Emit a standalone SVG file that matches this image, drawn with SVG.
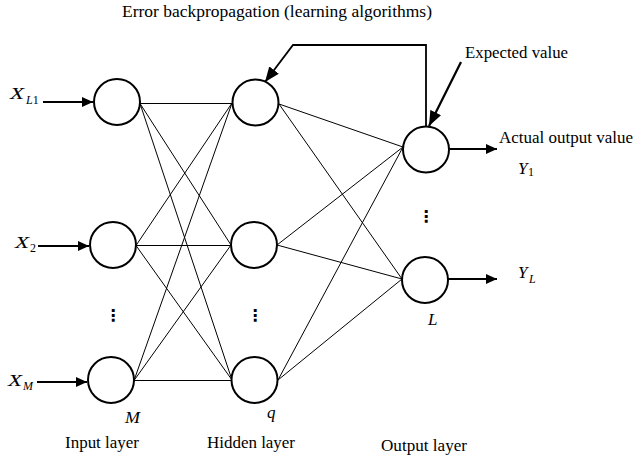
<svg xmlns="http://www.w3.org/2000/svg" width="635" height="461" viewBox="0 0 635 461">
<style>
.node{fill:#fff;stroke:#000;stroke-width:2}
.conn{stroke:#000;stroke-width:1;fill:none}
.arr{stroke:#000;stroke-width:2.2;fill:none}
text{font-family:'Liberation Serif','DejaVu Serif',serif;fill:#000}
.lbl{font-size:16px}
.math{font-style:italic;font-size:17px}
.sub{font-style:italic;font-size:12px}
.up{font-style:normal}
.dots{font-family:'DejaVu Sans',sans-serif;font-size:16px;font-weight:bold;text-anchor:middle}
</style>
<defs>
<marker id="ah" markerUnits="userSpaceOnUse" markerWidth="11" markerHeight="10" refX="11" refY="5" orient="auto"><path d="M0,0 L11,5 L0,10 z" fill="#000"/></marker>
<marker id="ahL" markerUnits="userSpaceOnUse" markerWidth="15" markerHeight="12" refX="15" refY="6" orient="auto"><path d="M0,0 L15,6 L0,12 z" fill="#000"/></marker>
</defs>
<g id="connectors">
<line class="conn" x1="140" y1="103.5" x2="232" y2="103.5"/>
<line class="conn" x1="140" y1="103.5" x2="231" y2="245"/>
<line class="conn" x1="140" y1="103.5" x2="232" y2="380"/>
<line class="conn" x1="136" y1="245.5" x2="232" y2="103"/>
<line class="conn" x1="136" y1="245.5" x2="231" y2="245.5"/>
<line class="conn" x1="136" y1="245.5" x2="232" y2="380"/>
<line class="conn" x1="134" y1="380.5" x2="232" y2="103"/>
<line class="conn" x1="134" y1="380.5" x2="231" y2="245"/>
<line class="conn" x1="134" y1="380.5" x2="232" y2="380.5"/>
<line class="conn" x1="279" y1="104" x2="403" y2="147"/>
<line class="conn" x1="279" y1="104" x2="402" y2="279"/>
<line class="conn" x1="277" y1="245" x2="403" y2="147"/>
<line class="conn" x1="277" y1="245" x2="402" y2="279"/>
<line class="conn" x1="278" y1="380" x2="403" y2="147"/>
<line class="conn" x1="278" y1="380" x2="402" y2="279"/>
<line class="arr" x1="43" y1="102" x2="93" y2="102" marker-end="url(#ah)"/>
<line class="arr" x1="38" y1="246" x2="89" y2="246" marker-end="url(#ah)"/>
<line class="arr" x1="37" y1="382" x2="87" y2="382" marker-end="url(#ah)"/>
<line class="arr" x1="449" y1="149" x2="497" y2="149" marker-end="url(#ah)"/>
<line class="arr" x1="448" y1="279" x2="497" y2="279" marker-end="url(#ah)"/>
<polyline fill="none" stroke="#000" stroke-width="1.8" points="426,127 426,45 293,45 265,82" marker-end="url(#ahL)"/>
<line x1="461" y1="62" x2="429" y2="126" stroke="#000" stroke-width="2.2" marker-end="url(#ahL)"/>
</g>
<g id="input1"><circle class="node" cx="117" cy="102" r="23"/></g>
<g id="input2"><circle class="node" cx="113" cy="245" r="23"/></g>
<g id="input3"><circle class="node" cx="111" cy="380" r="23"/></g>
<g id="hidden1"><circle class="node" cx="255.5" cy="102.5" r="23"/></g>
<g id="hidden2"><circle class="node" cx="254" cy="245" r="23"/></g>
<g id="hidden3"><circle class="node" cx="254.5" cy="380" r="23"/></g>
<g id="output1"><circle class="node" cx="426" cy="149.5" r="23"/></g>
<g id="output2"><circle class="node" cx="425" cy="280" r="23"/></g>
<g id="labels">
<text class="lbl" x="122" y="17" textLength="310" lengthAdjust="spacingAndGlyphs">Error backpropagation (learning algorithms)</text>
<text class="lbl" x="465" y="58" textLength="103" lengthAdjust="spacingAndGlyphs">Expected value</text>
<text class="lbl" x="499" y="143" textLength="134" lengthAdjust="spacingAndGlyphs">Actual output value</text>
<text class="lbl" x="65" y="448" textLength="74" lengthAdjust="spacingAndGlyphs">Input layer</text>
<text class="lbl" x="207" y="448" textLength="88" lengthAdjust="spacingAndGlyphs">Hidden layer</text>
<text class="lbl" x="381" y="451" textLength="86" lengthAdjust="spacingAndGlyphs">Output layer</text>
<text class="math" x="10" y="99" textLength="14" lengthAdjust="spacingAndGlyphs">X</text>
<text class="sub" x="26" y="104">L<tspan class="up">1</tspan></text>
<text class="math" x="15" y="248" textLength="14" lengthAdjust="spacingAndGlyphs">X</text>
<text class="sub up" x="30" y="252">2</text>
<text class="math" x="8" y="386" textLength="14" lengthAdjust="spacingAndGlyphs">X</text>
<text class="sub" x="23" y="390">M</text>
<text class="math" x="518" y="174">Y</text>
<text class="sub up" x="528" y="176">1</text>
<text class="math" x="518" y="278">Y</text>
<text class="sub" x="529" y="283">L</text>
<text class="math" x="125" y="423" textLength="15" lengthAdjust="spacingAndGlyphs">M</text>
<text class="math" x="267" y="418">q</text>
<text class="math" x="428" y="325">L</text>
<text class="dots" x="113" y="321">⋮</text>
<text class="dots" x="255" y="321">⋮</text>
<text class="dots" x="426" y="222">⋮</text>
</g>
</svg>
